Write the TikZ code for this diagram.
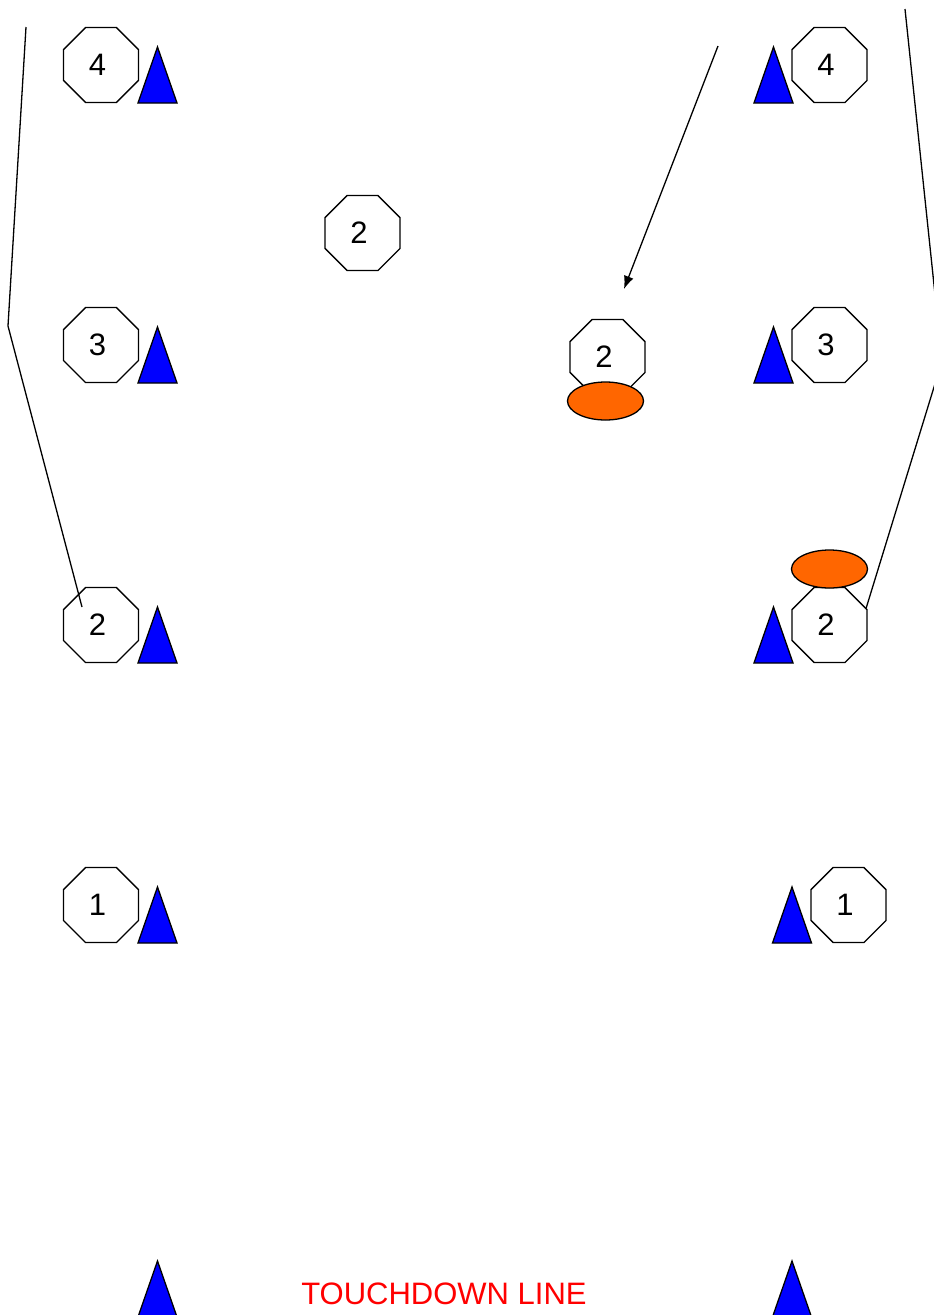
\documentclass[tikz,border=0pt]{standalone}
\usepackage{fontspec}
\setmainfont{Liberation Sans}
\usetikzlibrary{shapes.geometric,arrows.meta}
\definecolor{conecol}{HTML}{0000FF}
\definecolor{ballcol}{HTML}{FF6600}
\begin{document}
\begin{tikzpicture}[x=1pt,y=-1pt,
  player/.style={draw=black,line width=1.3pt,fill=white,regular polygon,regular polygon sides=8,
    minimum size=81pt,inner sep=0pt,font=\fontsize{31}{36}\selectfont,
    execute at begin node={\hspace*{-7pt}}},
  ball/.style={draw=black,line width=1.3pt,fill=ballcol,ellipse,minimum width=76pt,minimum height=38pt,inner sep=0pt},
  run/.style={draw=black,line width=1.3pt,line join=round},
  cone/.pic={\draw[line width=1.3pt,fill=conecol,line join=miter] (-19.5,0) -- (0,-56) -- (19.5,0) -- cycle;}
]
\useasboundingbox (0,0) rectangle (934,1315);
\clip (0,0) rectangle (934,1315);

% left column
\node[player] (L4) at (101,65) {4};
\node[player] (L3) at (101,345) {3};
\node[player] (L2) at (101,625) {2};
\node[player] (L1) at (101,905) {1};
\pic at (157.5,103) {cone};
\pic at (157.5,383) {cone};
\pic at (157.5,663) {cone};
\pic at (157.5,943) {cone};
\pic at (157.5,1317) {cone};

% right column
\node[player] (R4) at (829.5,65) {4};
\node[player] (R3) at (829.5,345) {3};
\node[player] (R2) at (829.5,625) {2};
\node[player] (R1) at (848.5,905) {1};
\pic at (773.5,103) {cone};
\pic at (773.5,383) {cone};
\pic at (773.5,663) {cone};
\pic at (792,943) {cone};
\pic at (792,1317) {cone};

% middle players
\node[player] (M1) at (362.5,233) {2};
\node[player] (M2) at (607.5,357) {2};

% balls
\node[ball] (B1) at (605.5,401) {};
\node[ball] (B2) at (829.5,569) {};

% running lines
\coordinate (lt) at (26,27);
\coordinate (lk) at (8,326);
\coordinate (le) at (82,607);
\draw[run] (lt) -- (lk) -- (le);
\coordinate (rt) at (905,9);
\coordinate (rk) at (942,361);
\draw[run] (rt) -- (rk) -- (R2.25);

% pass arrow
\coordinate (ps) at (718,46);
\coordinate (pe) at (624,289);
\draw[run,-{Latex[length=13pt,width=10pt]}] (ps) -- (pe);

% goal line label
\node[text=red,font=\fontsize{31}{36}\selectfont,inner sep=0pt] (td) at (444,1294) {TOUCHDOWN LINE};
\end{tikzpicture}
\end{document}
